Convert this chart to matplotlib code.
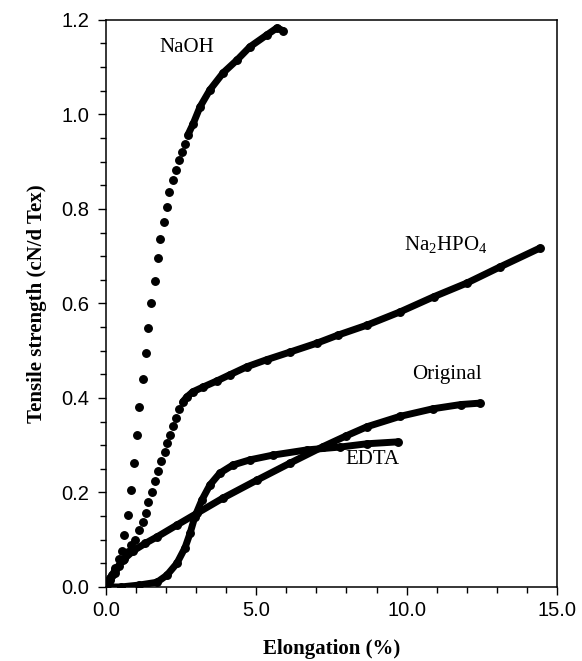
import numpy as np
import matplotlib
matplotlib.use('Agg')
import matplotlib.pyplot as plt
from matplotlib.ticker import MultipleLocator, FormatStrFormatter

plt.rcParams['mathtext.default'] = 'regular'

SERIF = 'Liberation Serif'
SANS = 'Liberation Sans'

# NaOH: first N_SPARSE points are loose dots, the rest a dense band
naoh_x = [0.0, 0.1, 0.2, 0.3, 0.45, 0.53, 0.6, 0.73, 0.83, 0.93, 1.03, 1.10, 1.23, 1.33,
          1.40, 1.50, 1.63, 1.73, 1.80, 1.93, 2.03, 2.10, 2.23, 2.33, 2.43, 2.53, 2.63,
          2.73, 2.9, 3.13, 3.46, 3.9, 4.36, 4.79, 5.35, 5.69, 5.89]
naoh_y = [0.0, 0.012, 0.025, 0.04, 0.06, 0.076, 0.11, 0.152, 0.205, 0.262, 0.322, 0.381,
          0.44, 0.495, 0.548, 0.601, 0.648, 0.696, 0.736, 0.773, 0.804, 0.836, 0.861,
          0.883, 0.904, 0.921, 0.938, 0.957, 0.98, 1.016, 1.052, 1.088, 1.115, 1.143,
          1.168, 1.183, 1.177]
naoh_sparse = 27

na2hpo4_x = [0.05, 0.15, 0.3, 0.45, 0.6, 0.72, 0.85, 0.96, 1.10, 1.23, 1.33, 1.40, 1.53,
             1.63, 1.73, 1.83, 1.96, 2.03, 2.13, 2.23, 2.33, 2.43,
             2.56, 2.69, 2.89, 3.23, 3.69, 4.12, 4.69, 5.35, 6.12, 7.02, 7.72, 8.68,
             9.78, 10.9, 12.0, 13.1, 14.43]
na2hpo4_y = [0.005, 0.015, 0.03, 0.045, 0.06, 0.075, 0.088, 0.10, 0.121, 0.138, 0.157,
             0.18, 0.201, 0.224, 0.246, 0.267, 0.286, 0.305, 0.322, 0.341, 0.358, 0.377,
             0.392, 0.402, 0.413, 0.423, 0.436, 0.449, 0.466, 0.481, 0.497, 0.516,
             0.533, 0.554, 0.582, 0.614, 0.643, 0.677, 0.717]
na2hpo4_sparse = 22

orig_x = [0.0, 0.15, 0.3, 0.57, 0.9, 1.3, 1.7, 2.36, 3.03, 3.89, 5.02, 6.12, 7.22, 8.0,
          8.68, 9.78, 10.87, 11.8, 12.44]
orig_y = [0.005, 0.02, 0.035, 0.057, 0.076, 0.092, 0.106, 0.131, 0.156, 0.188, 0.226,
          0.262, 0.297, 0.32, 0.339, 0.361, 0.377, 0.386, 0.389]

edta_x = [0.0, 0.5, 1.1, 1.7, 2.03, 2.36, 2.63, 2.8, 2.96, 3.19, 3.46, 3.79, 4.22, 4.79,
          5.55, 6.68, 7.78, 8.68, 9.7]
edta_y = [0.0, 0.0, 0.004, 0.01, 0.025, 0.05, 0.083, 0.114, 0.149, 0.184, 0.216, 0.241,
          0.258, 0.269, 0.279, 0.29, 0.296, 0.303, 0.307]

labels = ['NaOH', 'Na$_2$HPO$_4$', 'Original', 'EDTA']
label_x = [2.7, 11.3, 11.35, 8.85]
label_y = [1.142, 0.724, 0.449, 0.27]


def draw_series(ax, x, y, n_sparse=0):
    # loose dots
    ax.plot(x[:n_sparse], y[:n_sparse], 'o', color='black', ms=5.4, mec='black')
    # dense band of dots
    ax.plot(x[n_sparse:], y[n_sparse:], '-o', color='black', lw=5.0, ms=5.4,
            solid_capstyle='round', solid_joinstyle='round')


fig = plt.figure(figsize=(5.82, 6.61), dpi=100)
ax = fig.add_axes([0.182, 0.112, 0.775, 0.858])

draw_series(ax, naoh_x, naoh_y, naoh_sparse)
draw_series(ax, na2hpo4_x, na2hpo4_y, na2hpo4_sparse)
draw_series(ax, orig_x, orig_y)
draw_series(ax, edta_x, edta_y)

for t, lx, ly in zip(labels, label_x, label_y):
    ax.text(lx, ly, t, family=SERIF, fontsize=15, ha='center', va='center')

ax.set_xlim(0, 15)
ax.set_ylim(0, 1.2)
ax.xaxis.set_major_locator(MultipleLocator(5))
ax.xaxis.set_minor_locator(MultipleLocator(1))
ax.yaxis.set_major_locator(MultipleLocator(0.2))
ax.yaxis.set_minor_locator(MultipleLocator(0.05))
ax.xaxis.set_major_formatter(FormatStrFormatter('%.1f'))
ax.yaxis.set_major_formatter(FormatStrFormatter('%.1f'))
ax.tick_params(which='major', direction='out', length=6, width=1, labelsize=14.5, pad=4)
ax.tick_params(axis='y', which='major', pad=6)
ax.tick_params(which='minor', direction='out', length=4, width=1)
for lab in ax.get_xticklabels() + ax.get_yticklabels():
    lab.set_family(SANS)
for s in ax.spines.values():
    s.set_linewidth(1.1)

ax.set_xlabel('Elongation (%)', family=SERIF, fontweight='bold', fontsize=15, labelpad=14)
ax.set_ylabel('Tensile strength (cN/d Tex)', family=SERIF, fontweight='bold', fontsize=15,
              labelpad=10)

plt.savefig('out.png', dpi=100)
